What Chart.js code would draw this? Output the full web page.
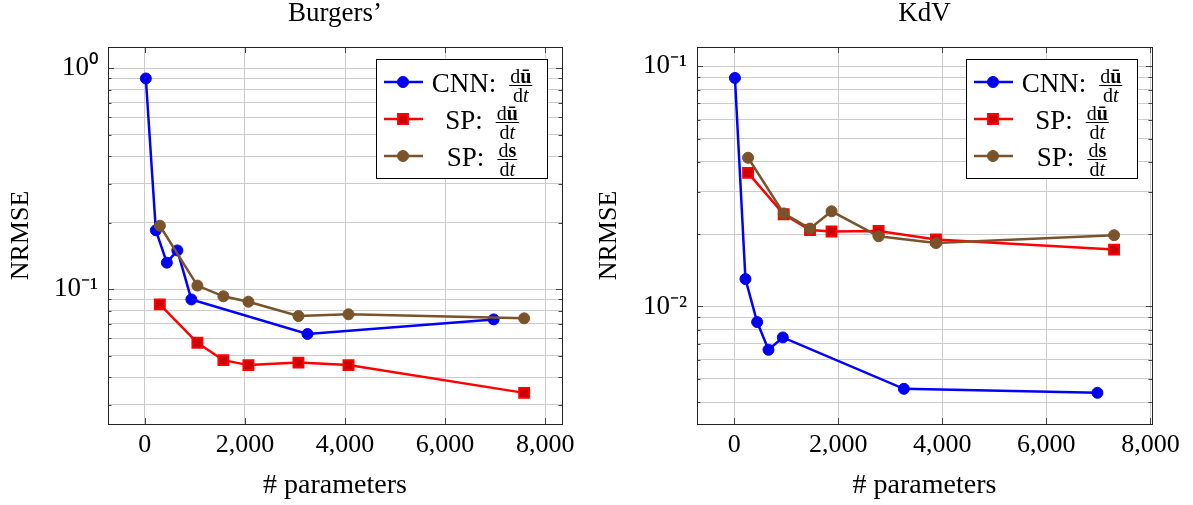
<!DOCTYPE html>
<html>
<head>
<meta charset="utf-8">
<script src="https://cdn.jsdelivr.net/npm/chart.js@4.4.0/dist/chart.umd.min.js"></script>
<style>
html, body { margin: 0; padding: 0; background: #fff; }
#wrap { position: relative; width: 1193px; height: 505px; }
.panel { position: absolute; top: 0; height: 505px; }
</style>
</head>
<body>
<div id="wrap">
    <div class="panel" style="left:0;width:590px"><canvas id="burgersChart"></canvas></div>
    <div class="panel" style="left:590px;width:603px"><canvas id="kdvChart"></canvas></div>
</div>
<script>
// values
var burgersCnnParams = [20, 220, 440, 650, 930, 3250, 6970];
var burgersCnnErr    = [0.90, 0.185, 0.132, 0.150, 0.090, 0.0628, 0.0731];
var burgersSpParams  = [300, 1050, 1570, 2070, 3070, 4070, 7580];
var burgersSpUErr    = [0.0855, 0.0573, 0.0478, 0.0454, 0.0466, 0.0454, 0.0340];
var burgersSpSErr    = [0.194, 0.104, 0.093, 0.0879, 0.0757, 0.0771, 0.0739];

var kdvCnnParams = [15, 217, 442, 660, 935, 3262, 6981];
var kdvCnnErr    = [0.0894, 0.0130, 0.00861, 0.0066, 0.00743, 0.00454, 0.00437];
var kdvSpParams  = [267, 952, 1458, 1872, 2776, 3878, 7301];
var kdvSpUErr    = [0.0360, 0.0242, 0.0208, 0.0205, 0.0206, 0.0190, 0.01725];
var kdvSpSErr    = [0.0416, 0.0244, 0.0211, 0.0249, 0.0196, 0.01836, 0.0198];

var xTickValues = [0, 2000, 4000, 6000, 8000];
var seriesNames = ['CNN:', 'SP:', 'SP:'];
var seriesNumerators = ['\u016b', '\u016b', 's'];

var FONT = '"Liberation Serif", "Times New Roman", serif';
var GRID = '#cccccc';
var SUP = { '0': '\u2070', '1': '\u00b9', '2': '\u00b2', '3': '\u00b3', '-': '\u207b' };

function toPoints(xs, ys) {
    var pts = [];
    for (var i = 0; i < xs.length; i++) pts.push({ x: xs[i], y: ys[i] });
    return pts;
}

function isDecade(v) {
    var l = Math.log10(v);
    return Math.abs(l - Math.round(l)) < 1e-9;
}

function logTicks(min, max) {
    var out = [];
    for (var e = Math.floor(Math.log10(min)); e <= Math.ceil(Math.log10(max)); e++) {
        for (var k = 1; k < 10; k++) {
            var v = k * Math.pow(10, e);
            if (v >= min && v <= max) out.push({ value: v });
        }
    }
    return out;
}

function decadeLabel(v) {
    if (!isDecade(v)) return '';
    var e = String(Math.round(Math.log10(v)));
    var s = '';
    for (var i = 0; i < e.length; i++) s += SUP[e[i]];
    return '10' + s;
}

// frame + inner tick marks like pgfplots
var framePlugin = {
    id: 'frame',
    beforeDatasetsDraw: function(chart) {
        var a = chart.chartArea, ctx = chart.ctx;
        var xs = chart.scales.x, ys = chart.scales.y;
        ctx.save();
        ctx.strokeStyle = '#444';
        ctx.lineWidth = 1;
        ctx.beginPath();
        ys.ticks.forEach(function(t) {
            var py = Math.round(ys.getPixelForValue(t.value)) + 0.5;
            var len = isDecade(t.value) ? 6 : 3.5;
            ctx.moveTo(a.left, py); ctx.lineTo(a.left + len, py);
            ctx.moveTo(a.right, py); ctx.lineTo(a.right - len, py);
        });
        xs.ticks.forEach(function(t) {
            var px = Math.round(xs.getPixelForValue(t.value)) + 0.5;
            ctx.moveTo(px, a.top); ctx.lineTo(px, a.top + 6);
            ctx.moveTo(px, a.bottom); ctx.lineTo(px, a.bottom - 6);
        });
        ctx.stroke();
        ctx.strokeStyle = '#222';
        ctx.strokeRect(Math.round(a.left) + 0.5, Math.round(a.top) + 0.5,
                       Math.round(a.right - a.left), Math.round(a.bottom - a.top));
        ctx.restore();
    }
};

// title centred over the plot area
var panelTitlePlugin = {
    id: 'panelTitle',
    afterDraw: function(chart, args, opts) {
        var a = chart.chartArea, ctx = chart.ctx;
        ctx.save();
        ctx.font = '27px ' + FONT;
        ctx.fillStyle = '#000';
        ctx.textAlign = 'center';
        ctx.textBaseline = 'alphabetic';
        ctx.fillText(opts.text, (a.left + a.right) / 2, 21);
        ctx.restore();
    }
};

// legend with d(.)/dt fractions
var fractionLegendPlugin = {
    id: 'fractionLegend',
    afterDraw: function(chart) {
        var a = chart.chartArea, ctx = chart.ctx;
        var w = 171, h = 119;
        var left = Math.round(a.right - 15 - w), top = Math.round(a.top + 12);
        ctx.save();
        ctx.fillStyle = '#fff';
        ctx.fillRect(left, top, w, h);
        ctx.strokeStyle = '#000';
        ctx.lineWidth = 1;
        ctx.strokeRect(left + 0.5, top + 0.5, w, h);

        chart.data.datasets.forEach(function(ds, i) {
            var cy = top + 23 + i * 37;
            var mx = left + 27;
            ctx.strokeStyle = ds.borderColor;
            ctx.lineWidth = ds.borderWidth;
            ctx.beginPath();
            ctx.moveTo(left + 8, cy); ctx.lineTo(left + 47, cy);
            ctx.stroke();
            ctx.fillStyle = ds.pointBackgroundColor;
            ctx.strokeStyle = ds.pointBorderColor;
            ctx.lineWidth = ds.pointBorderWidth;
            ctx.beginPath();
            if (ds.pointStyle === 'rect') {
                var s = ds.pointRadius * Math.SQRT1_2;
                ctx.rect(mx - s, cy - s, 2 * s, 2 * s);
            } else {
                ctx.arc(mx, cy, ds.pointRadius, 0, Math.PI * 2);
            }
            ctx.fill(); ctx.stroke();

            var nameFont = '27px ' + FONT;
            var fracFont = '20px ' + FONT;
            var boldFont = 'bold 20px ' + FONT;
            var italFont = 'italic 20px ' + FONT;
            ctx.font = nameFont;
            var nameW = ctx.measureText(seriesNames[i]).width + 13;
            ctx.font = fracFont;
            var dW = ctx.measureText('d').width;
            ctx.font = boldFont;
            var symW = ctx.measureText(seriesNumerators[i]).width;
            ctx.font = italFont;
            var tW = ctx.measureText('t').width;
            var numW = dW + symW, denW = dW + tW;
            var fracW = Math.max(numW, denW) + 2;
            var x0 = left + 106 - (nameW + fracW) / 2;

            ctx.fillStyle = '#000';
            ctx.textAlign = 'left';
            ctx.textBaseline = 'alphabetic';
            ctx.font = nameFont;
            ctx.fillText(seriesNames[i], x0, cy + 9.5);

            var fx = x0 + nameW;
            var nx = fx + (fracW - numW) / 2;
            ctx.font = fracFont;
            ctx.fillText('d', nx, cy + 1);
            ctx.font = boldFont;
            ctx.fillText(seriesNumerators[i], nx + dW, cy + 1);
            var dx = fx + (fracW - denW) / 2;
            ctx.font = fracFont;
            ctx.fillText('d', dx, cy + 19.5);
            ctx.font = italFont;
            ctx.fillText('t', dx + dW, cy + 19.5);
            ctx.fillRect(fx, cy + 3, fracW, 1);
        });
        ctx.restore();
    }
};

function makeDatasets(cnnX, cnnY, spX, spUY, spSY) {
    return [{
        label: 'CNN: du/dt',
        data: toPoints(cnnX, cnnY),
        borderColor: '#0000ff',
        borderWidth: 2.5,
        pointStyle: 'circle',
        pointRadius: 5.5,
        pointBorderWidth: 1,
        pointBackgroundColor: '#0000f0',
        pointBorderColor: '#0000ff',
        order: 3
    }, {
        label: 'SP: du/dt',
        data: toPoints(spX, spUY),
        borderColor: '#ff0000',
        borderWidth: 2.5,
        pointStyle: 'rect',
        pointRadius: 7,
        pointBorderWidth: 2,
        pointBackgroundColor: '#cc0000',
        pointBorderColor: '#ff0000',
        order: 2
    }, {
        label: 'SP: ds/dt',
        data: toPoints(spX, spSY),
        borderColor: '#7a532b',
        borderWidth: 2.5,
        pointStyle: 'circle',
        pointRadius: 5.5,
        pointBorderWidth: 1,
        pointBackgroundColor: '#7a532b',
        pointBorderColor: '#7a532b',
        order: 1
    }];
}

function makeChart(id, title, datasets, xMin, xMax, yMin, yMax, yWidth, padRight, yTitlePad) {
    var tickFont = { family: FONT, size: 26 };
    return new Chart(document.getElementById(id), {
        type: 'line',
        data: { datasets: datasets },
        options: {
            responsive: true,
            maintainAspectRatio: false,
            animation: false,
            layout: { padding: { top: 47, right: padRight, bottom: 0, left: 0 } },
            elements: { line: { tension: 0 } },
            plugins: {
                legend: { display: false },
                tooltip: { enabled: false },
                panelTitle: { text: title }
            },
            scales: {
                x: {
                    type: 'linear',
                    min: xMin,
                    max: xMax,
                    afterBuildTicks: function(s) {
                        s.ticks = xTickValues.map(function(v) { return { value: v }; });
                    },
                    afterFit: function(s) { s.height = 81; },
                    ticks: {
                        font: tickFont, color: '#000', padding: 6, maxRotation: 0, autoSkip: false,
                        callback: function(v) { return Number(v).toLocaleString('en-US'); }
                    },
                    grid: { color: GRID, lineWidth: 1, drawTicks: false },
                    border: { display: false },
                    title: {
                        display: true, text: '# parameters', color: '#000',
                        font: { family: FONT, size: 28 }, padding: { top: 0, bottom: 3 }
                    }
                },
                y: {
                    type: 'logarithmic',
                    min: yMin,
                    max: yMax,
                    afterBuildTicks: function(s) { s.ticks = logTicks(yMin, yMax); },
                    afterFit: function(s) { s.width = yWidth; },
                    ticks: {
                        font: { family: FONT, size: 27 }, color: '#000', padding: 10, autoSkip: false,
                        callback: function(v) { return decadeLabel(v); }
                    },
                    grid: { color: GRID, lineWidth: 1, drawTicks: false },
                    border: { display: false },
                    title: {
                        display: true, text: 'NRMSE', color: '#000',
                        font: { family: FONT, size: 26 }, padding: { top: yTitlePad, bottom: 0 }
                    }
                }
            }
        },
        plugins: [framePlugin, panelTitlePlugin, fractionLegendPlugin]
    });
}

window.onload = function() {
    makeChart('burgersChart', 'Burgers\u2019',
        makeDatasets(burgersCnnParams, burgersCnnErr, burgersSpParams, burgersSpUErr, burgersSpSErr),
        -736, 8336, 0.02458, 1.249, 108, 28, 6);
    makeChart('kdvChart', 'KdV',
        makeDatasets(kdvCnnParams, kdvCnnErr, kdvSpParams, kdvSpUErr, kdvSpSErr),
        -714, 8030, 0.00324, 0.1203, 107, 41, 4);
};
</script>
</body>
</html>
